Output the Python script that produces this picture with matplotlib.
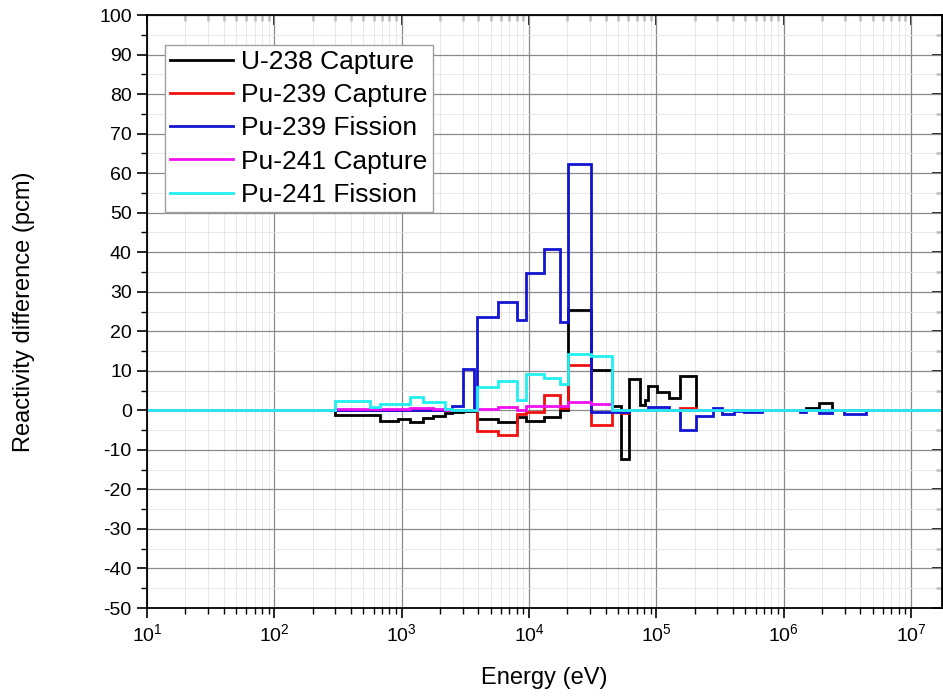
import matplotlib
matplotlib.use("Agg")
from matplotlib import pyplot as plt
from matplotlib.ticker import MultipleLocator, LogLocator, NullFormatter

plt.rcParams['font.family'] = ['Liberation Sans', 'DejaVu Sans']
plt.rcParams['mathtext.fontset'] = 'custom'
plt.rcParams['mathtext.rm'] = 'Liberation Sans'
plt.rcParams['mathtext.it'] = 'Liberation Sans:italic'
plt.rcParams['mathtext.bf'] = 'Liberation Sans:bold'
plt.rcParams['axes.unicode_minus'] = False

# group boundaries (eV)
energia = [10, 300, 560, 680, 940, 1150, 1480, 1750, 2200, 2500, 3030, 3720, 3900,
           5700, 8000, 9500, 13000, 17600, 20300, 30400, 45000, 52400, 60800, 74000,
           80700, 85700, 101700, 125400, 153000, 203000, 276000, 330000, 407000,
           485000, 680000, 1050000, 1200000, 1350000, 1490000, 1890000, 2410000,
           2980000, 4410000, 2e7]

u238_cap = [0, -1.1, -1.1, -2.6, -2.2, -3.0, -2.0, -1.4, -0.7, -0.5, -0.2, -0.2,
            -2.1, -2.9, -1.6, -2.8, -1.8, 0.2, 25.3, 10.3, 1.2, -12.2, 7.9, 1.3,
            2.5, 6.1, 4.6, 3.1, 8.6, 0, 0, 0, 0, -0.2, 0, 0, 0, 0, 0.6, 1.9, 0,
            0.2, 0]
pu239_cap = [0, 0.2, 0.2, 0.2, 0.2, 0.2, 0.2, 0.2, 0.1, 0.1, 0.1, 0.1,
             -5.3, -6.3, -0.8, -0.5, 3.8, 0.5, 11.4, -3.8, 0, -0.7, 0, 0,
             0, 0, 0, 0, 0.7, 0, 0, 0, 0, 0, 0, 0, 0, 0, 0, 0, 0,
             0, 0]
pu239_fis = [0, 0.2, 0.2, 0.2, 0.2, 0.2, 0.2, 0.2, 0.3, 1.2, 10.4, 0.3,
             23.6, 27.3, 22.8, 34.7, 40.9, 22.4, 62.4, -0.4, -0.4, -0.4, 0, 0,
             0, 0.9, 0.9, 0, -4.9, -1.4, 0.5, -0.9, -0.2, -0.4, 0, 0.2, 0, -0.4,
             0, -0.6, 0, -0.8, 0]
pu241_cap = [0, 0.3, 0.3, 0.4, 0.4, 0.7, 0.5, 0.4, 0.1, 0.1, 0.1, 0.1,
             0.3, 0.8, 0.2, 1.0, 1.2, 1.2, 2.0, 1.5, 0, 0, 0, 0,
             0, 0, 0, 0, 0, 0, 0, 0, 0, 0, 0, 0, 0, 0, 0, 0, 0,
             0, 0]
pu241_fis = [0, 2.4, 0.8, 1.5, 1.6, 3.5, 2.0, 2.0, 0.3, 0.2, 0.1, 0.1,
             5.8, 7.4, 2.5, 9.2, 8.3, 6.7, 14.2, 13.7, 0.2, 0, 0, 0,
             0, 0, 0, 0, 0, 0, 0, 0, 0, 0, 0, 0, 0, 0, 0, 0, 0,
             0, 0]

series = [
    ("U-238 Capture", u238_cap, "black"),
    ("Pu-239 Capture", pu239_cap, "#f01010"),
    ("Pu-239 Fission", pu239_fis, "#1414d2"),
    ("Pu-241 Capture", pu241_cap, "#f010f0"),
    ("Pu-241 Fission", pu241_fis, "#20f0f0"),
]

fig = plt.figure(figsize=(9.43, 6.96), dpi=100)
ax = fig.add_axes([0.156, 0.1264, 0.843, 0.852])

for nombre, valores, color in series:
    ax.stairs(valores, energia, baseline=None, color=color, lw=2.0, label=nombre)

ax.set_xscale('log')
ax.set_xlim(10, 1.75e7)
ax.set_ylim(-50, 100)
ax.yaxis.set_major_locator(MultipleLocator(10))
ax.yaxis.set_minor_locator(MultipleLocator(5))
ax.xaxis.set_major_locator(LogLocator(base=10, numticks=12))
ax.xaxis.set_minor_locator(LogLocator(base=10, subs=range(2, 10), numticks=12))
ax.xaxis.set_minor_formatter(NullFormatter())

ax.grid(True, which='major', color='#8a8a8a', lw=0.9)
ax.grid(True, which='minor', color='#e4e4e4', lw=0.6)
ax.set_axisbelow(True)

ax.tick_params(which='major', direction='out', length=7, width=1.2, labelsize=14, pad=4)
ax.tick_params(which='minor', direction='out', length=4, width=1.0)
for s in ax.spines.values():
    s.set_linewidth(1.3)

# mirrored ticks on top / right pointing inward
top = ax.secondary_xaxis('top')
top.tick_params(which='major', direction='in', length=7, width=1.2, color='black')
top.tick_params(which='minor', direction='in', length=4, width=1.0, color='black')
top.xaxis.set_major_locator(LogLocator(base=10, numticks=12))
top.xaxis.set_minor_locator(LogLocator(base=10, subs=range(2, 10), numticks=12))
top.xaxis.set_major_formatter(NullFormatter())
top.xaxis.set_minor_formatter(NullFormatter())
der = ax.secondary_yaxis('right')
der.tick_params(which='major', direction='in', length=7, width=1.2, color='black')
der.tick_params(which='minor', direction='in', length=4, width=1.0, color='black')
der.yaxis.set_major_locator(MultipleLocator(10))
der.yaxis.set_minor_locator(MultipleLocator(5))
der.yaxis.set_major_formatter(NullFormatter())

ax.set_xlabel('Energy (eV)', fontsize=17, labelpad=16)
ax.set_ylabel('Reactivity difference (pcm)', fontsize=17, labelpad=46)

leg = ax.legend(loc='upper left', bbox_to_anchor=(0.022, 0.95), borderaxespad=0,
                fontsize=19, handlelength=2.4, handletextpad=0.3, labelspacing=0.35,
                borderpad=0.2, fancybox=False, framealpha=1, edgecolor='#a0a0a0')
leg.get_frame().set_linewidth(1.0)

fig.savefig('out.png', dpi=100)
